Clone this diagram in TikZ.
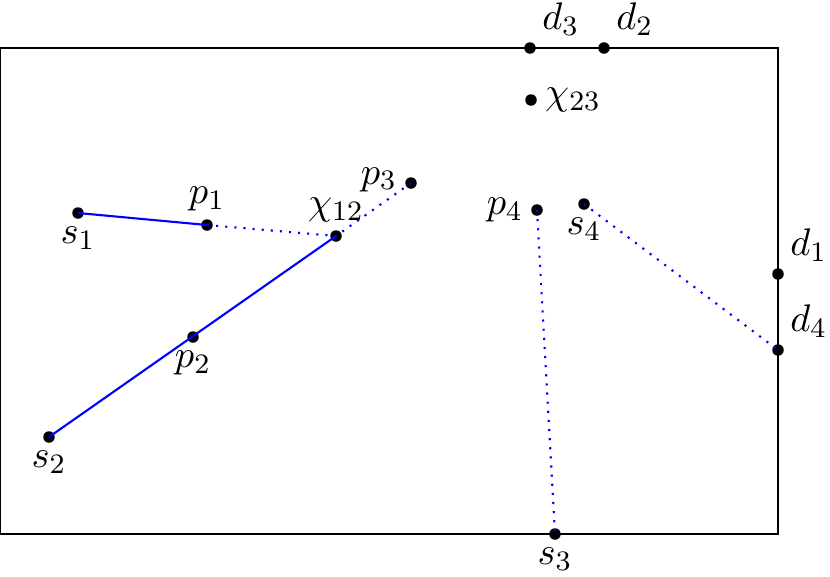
\documentclass[tikz,border=0pt]{standalone}
\usetikzlibrary{calc}
\begin{document}
\begin{tikzpicture} [x=0.1mm, y=-0.1mm,
				pt/.style={
				% The shape:
				circle,
				% The size:
      				inner sep=0pt, minimum size=1.15mm,
      				% The filling:
				fill=black
    				},
				path/.style={
				% The line:
				draw=blue, line width=0.6pt
    				},
				guess/.style={
				% The line:
				draw=blue, line width=0.6pt, dotted
				%densely dotted
    				},
				]
    \tikzstyle{every label} = [inner sep=2pt, font=\fontsize{11}{13}\selectfont]
    \useasboundingbox (0,0) rectangle (830,576);
    % the box
    \draw [line width=0.6pt] (0,48) rectangle (778,534);
    % points
    \node [pt, label=below:$s_1$] (s1) at (78,213) {};
    \node [pt, label=above:$p_1$] (p1) at (207,225) {};
    \node [pt, label=above:$\chi_{12}$] (chi12) at (336,236) {};
    \node [pt, label={[yshift=1pt]left:$p_3$}] (p3) at (411,183) {};
    \node [pt, label=below:$s_2$] (s2) at (49,437) {};
    \node [pt, label=below:$p_2$] (p2) at (193,337) {};
    \node [pt, label=above right:$d_3$] (d3) at (530,48) {};
    \node [pt, label=above right:$d_2$] (d2) at (604,48) {};
    \node [pt, label=right:$\chi_{23}$] (chi23) at (531,100) {};
    \node [pt, label=left:$p_4$] (p4) at (537,210) {};
    \node [pt, label=below:$s_4$] (s4) at (584,204) {};
    \node [pt, label=above right:$d_1$] (d1) at (778,274) {};
    \node [pt, label=above right:$d_4$] (d4) at (778,350) {};
    \node [pt, label=below:$s_3$] (s3) at (555,534) {};
    % paths
    \draw [path] (s1.center) -- (p1.center);
    \draw [path] (s2.center) -- (chi12.center);
    \draw [guess] (p1.center) -- (chi12.center) -- (p3.center);
    \draw [guess] (p4.center) -- (s3.center);
    \draw [guess] (s4.center) -- (d4.center);
\end{tikzpicture}
\end{document}
